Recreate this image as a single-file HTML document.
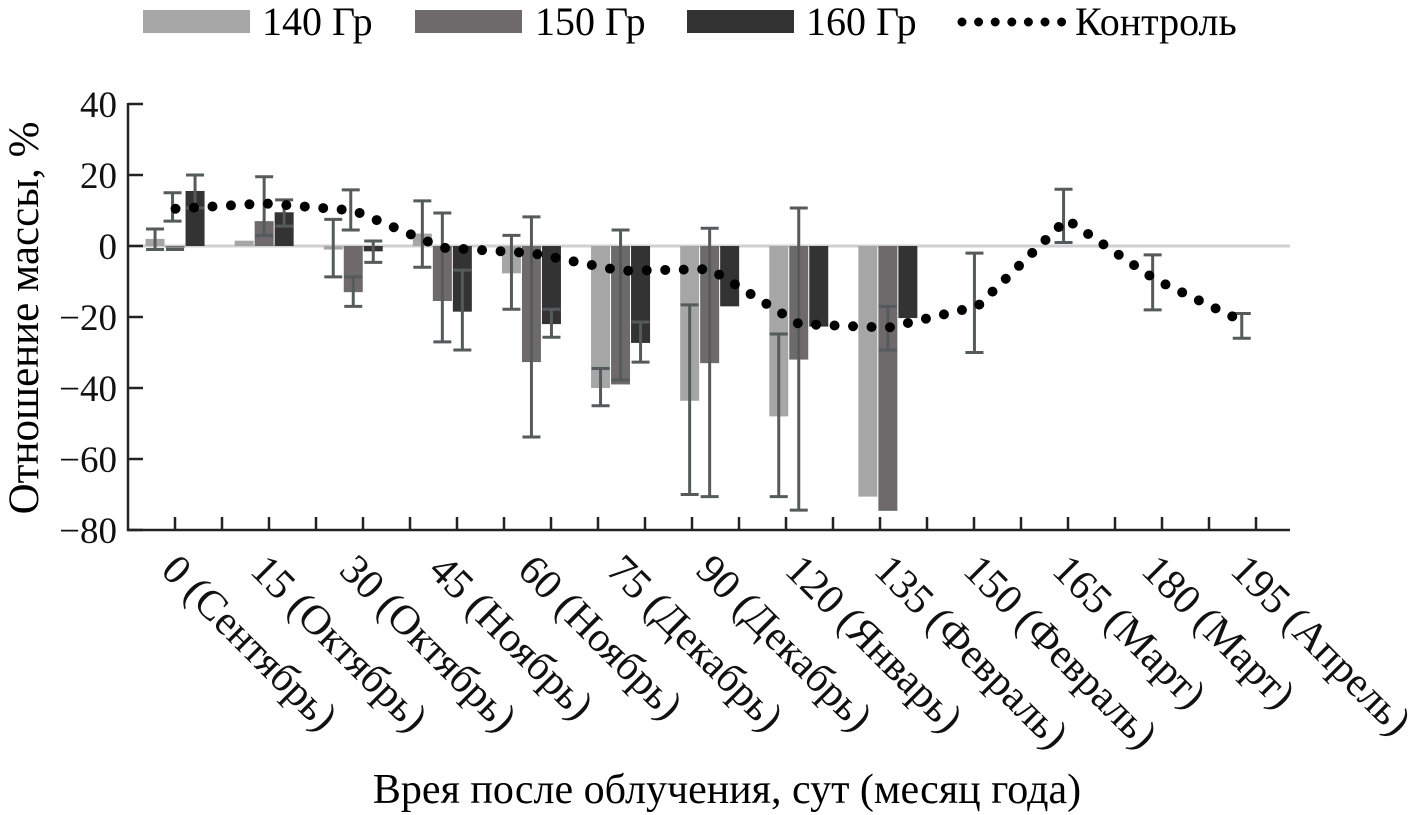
<!DOCTYPE html>
<html><head><meta charset="utf-8"><style>
html,body{margin:0;padding:0;background:#fff;}
svg{display:block;font-family:"Liberation Serif",serif;}
</style></head><body>
<svg id="chart" width="1427" height="815" viewBox="0 0 1427 815" xmlns="http://www.w3.org/2000/svg">
<g id="legend">
 <g><rect x="143" y="10" width="107" height="23" fill="#a6a6a6"/><text x="262" y="35" font-size="40">140 Гр</text></g>
 <g><rect x="415" y="10" width="107" height="23" fill="#6e6a6b"/><text x="535" y="35" font-size="40">150 Гр</text></g>
 <g><rect x="687" y="10" width="107" height="23" fill="#333"/><text x="806" y="35" font-size="40">160 Гр</text></g>
 <g><line x1="962" y1="22" x2="1062" y2="22" stroke="#000" stroke-width="9" stroke-linecap="round" stroke-dasharray="0 16.6"/><text x="1075" y="35" font-size="40">Контроль</text></g>
</g>
<g id="plot"></g>
<text transform="translate(38,318) rotate(-90)" text-anchor="middle" font-size="43">Отношение массы, %</text>
<text x="727" y="803" text-anchor="middle" font-size="42">Врея после облучения, сут (месяц года)</text>
</svg>
<script>
const categories = ["0 (Сентябрь)","15 (Октябрь)","30 (Октябрь)","45 (Ноябрь)","60 (Ноябрь)","75 (Декабрь)","90 (Декабрь)","120 (Январь)","135 (Февраль)","150 (Февраль)","165 (Март)","180 (Март)","195 (Апрель)"];
const yTicks = [40,20,0,-20,-40,-60,-80];
const v140 = [2,1.5,-1,3.5,-7.7,-40,-43.6,-48,-70.6,null,null,null,null];
const v150 = [-0.5,7,-13,-15.5,-32.7,-39,-33,-32,-74.6,null,null,null,null];
const v160 = [15.5,9.5,-1.5,-18.5,-22,-27.3,-17,-22.7,-20.3,null,null,null,null];
const err140 = [[-1,4.8],null,[-8.7,7.5],[-6,12.7],[-17.8,3],[-45,-34.5],[-70,-16.6],[-70.6,-24.8],null,null,null,null,null];
const err150 = [[-1,-1],[3,19.5],[-17,-8.7],[-27,9.3],[-53.8,8.2],[-37.7,4.5],[-70.6,5],[-74.4,10.7],[-29.3,-17],null,null,null,null];
const err160 = [[10.7,20],[5.6,13],[-4.6,1.4],[-29.3,-6.8],[-25.7,-17.8],[-32.7,-21.4],null,null,null,null,null,null,null];
const control = [10.5,12,10,-0.5,-2,-7,-6.5,-22,-23,-17,7.5,-9.5,-21.5];
const errControl = [[7,15],null,[4.5,15.8],null,null,null,null,null,null,[-30,-2],[1,16],[-18,-2.5],[-26,-19]];

const NS="http://www.w3.org/2000/svg";
const plot=document.getElementById('plot');
const X0=131, STEP=89.1, Y0=246, PX=3.55;
const xc=i=>X0+STEP*(i+0.5);
const y=v=>Y0-v*PX;
function mk(tag,attrs,parent){const e=document.createElementNS(NS,tag);for(const k in attrs)e.setAttribute(k,attrs[k]);(parent||plot).appendChild(e);return e;}

const z=mk('line',{x1:128,x2:1290,y1:y(0),y2:y(0),stroke:'#d0d0d0','stroke-width':3});



const series=[[v140,err140,'#a6a6a6','140'],[v150,err150,'#6e6a6b','150'],[v160,err160,'#333','160']];
series.forEach((s,si)=>{
  s[0].forEach((v,i)=>{
    if(v===null)return;
    const x=xc(i)-30+si*20;
    const top=Math.min(y(v),y(0)), h=Math.abs(y(v)-y(0));
    const r=mk('rect',{x:x,y:top,width:19,height:Math.max(h,1.5),fill:s[2]});
    
    
  });
});
function errbar(cx,e,name){
  const g=mk('g',{stroke:'#555a5a','stroke-width':3});
  
  
  mk('line',{x1:cx,x2:cx,y1:y(e[0]),y2:y(e[1])},g);
  mk('line',{x1:cx-9,x2:cx+9,y1:y(e[0]),y2:y(e[0])},g);
  mk('line',{x1:cx-9,x2:cx+9,y1:y(e[1]),y2:y(e[1])},g);
}
series.forEach((s,si)=>{
  s[1].forEach((e,i)=>{ if(e) errbar(xc(i)-20.5+si*20,e,'error-bar-'+s[3]+'-'+i); });
});
errControl.forEach((e,i)=>{ if(e) errbar(xc(i)-3,e,'error-bar-control-'+i); });

const pts=control.map((v,i)=>xc(i)+','+y(v)).join(' ');
const pl=mk('polyline',{points:pts,fill:'none',stroke:'#000','stroke-width':10,'stroke-linecap':'round','stroke-dasharray':'0 18.5'});



const ax=mk('g',{stroke:'#222','stroke-width':2.5});


mk('line',{x1:128,x2:128,y1:y(40)-1,y2:y(-80)+1},ax);
mk('line',{x1:127,x2:1290,y1:y(-80),y2:y(-80)},ax);
yTicks.forEach(t=>{
  mk('line',{x1:128,x2:143,y1:y(t),y2:y(t)},ax);
  const tx=mk('text',{x:117,y:y(t)+13,'text-anchor':'end','font-size':37,fill:'#111',stroke:'none'});
  tx.textContent=(t<0?'\u2212'+(-t):String(t));
  
  
});
for(let k=1;k<=24;k++){const xx=128+47*k; if(xx>1291)break; mk('line',{x1:xx,x2:xx,y1:y(-80),y2:y(-80)-13},ax);}
categories.forEach((c,i)=>{
  const x=xc(i)-16, yy=572;
  const t=mk('text',{x:x,y:yy,'font-size':42,fill:'#111',transform:`rotate(45 ${x} ${yy})`});
  t.textContent=c;
  
  
});
</script>
</body></html>
